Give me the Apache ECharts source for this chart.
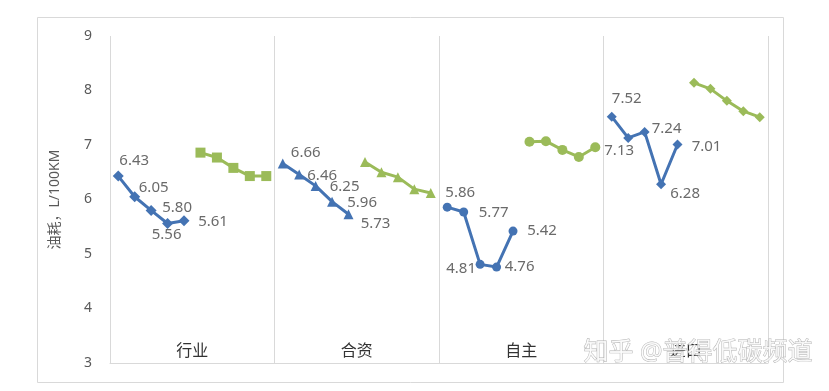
<!DOCTYPE html>
<html>
<head>
<meta charset="utf-8">
<script src="https://cdn.jsdelivr.net/npm/echarts@6/dist/echarts.min.js"></script>
<style>html,body{margin:0;padding:0;background:#fff}#c{width:829px;height:391px}</style>
</head>
<body>
<div id="c"></div>
<script>
// ---- data ----
const groups = ['行业', '合资', '自主', '进口'];
const slotsPerGroup = 10;
const blueValues = [
  [6.43, 6.05, 5.80, 5.56, 5.61],
  [6.66, 6.46, 6.25, 5.96, 5.73],
  [5.86, 5.77, 4.81, 4.76, 5.42],
  [7.52, 7.13, 7.24, 6.28, 7.01]
];
const greenValues = [
  [6.86, 6.77, 6.58, 6.43, 6.43],
  [6.69, 6.50, 6.41, 6.19, 6.12],
  [7.06, 7.07, 6.91, 6.78, 6.96],
  [8.14, 8.03, 7.81, 7.62, 7.51]
];
const yTicks = [3, 4, 5, 6, 7, 8, 9];
const yName = '油耗，L/100KM';

// ---- style ----
const BLUE = '#4473B3', GREEN = '#9BBB59';
const blueSymbols = [['diamond', 11], ['triangle', 10], ['circle', 9], ['diamond', 10]];
const greenSymbols = [['rect', 10], ['triangle', 10], ['circle', 10], ['diamond', 10]];
const labelOffsets = [
  [[16, -15], [19, -9], [26, -3], [-1, 11], [29, 1]],
  [[23, -11], [23, 1], [29, 1], [30, 1], [27, 10]],
  [[13, -14], [30, 1], [-19, 4], [23, 0], [29, 0]],
  [[15, -18], [-9, 13], [22, -3], [24, 9], [29, 2]]
];
const FONT = '"Noto Sans", "Noto Sans CJK SC", sans-serif';

const slotCats = [];
for (let i = 0; i < groups.length * slotsPerGroup; i++) slotCats.push(String(i));

const series = [];
groups.forEach((g, gi) => {
  series.push({
    type: 'line', xAxisIndex: 1, yAxisIndex: 0,
    showAllSymbol: true,
    symbol: blueSymbols[gi][0], symbolSize: blueSymbols[gi][1],
    lineStyle: { color: BLUE, width: 3 },
    itemStyle: { color: BLUE },
    z: 3,
    data: blueValues[gi].map((v, i) => ({
      value: [gi * slotsPerGroup + i, v],
      label: {
        show: true, position: 'inside', offset: labelOffsets[gi][i],
        formatter: p => p.value[1].toFixed(2),
        color: '#6a6a6a', fontSize: 15, fontFamily: FONT
      }
    }))
  });
  series.push({
    type: 'line', xAxisIndex: 1, yAxisIndex: 0,
    showAllSymbol: true,
    symbol: greenSymbols[gi][0], symbolSize: greenSymbols[gi][1],
    lineStyle: { color: GREEN, width: 3 },
    itemStyle: { color: GREEN },
    z: 3,
    data: greenValues[gi].map((v, i) => [gi * slotsPerGroup + slotsPerGroup / 2 + i, v])
  });
});

const chart = echarts.init(document.getElementById('c'), null, { renderer: 'canvas' });
chart.setOption({
  animation: false,
  backgroundColor: '#fff',
  grid: { left: 110, right: 61, top: 36, bottom: 28, containLabel: false },
  xAxis: [
    {
      type: 'category', data: groups, boundaryGap: true,
      axisLine: { show: true, lineStyle: { color: '#d9d9d9', width: 1 } },
      axisTick: { show: false },
      splitLine: { show: true, lineStyle: { color: '#d9d9d9', width: 1 } },
      axisLabel: { inside: true, margin: 4, color: '#333333', fontSize: 16, fontFamily: FONT }
    },
    {
      type: 'category', data: slotCats, boundaryGap: true, show: false,
      gridIndex: 0
    }
  ],
  yAxis: [{
    type: 'value', min: yTicks[0], max: yTicks[yTicks.length - 1], interval: 1,
    axisLine: { show: false }, axisTick: { show: false }, splitLine: { show: false },
    axisLabel: { color: '#595959', fontSize: 14, margin: 18, fontFamily: FONT },
    name: yName, nameLocation: 'middle', nameRotate: 90, nameGap: 48,
    nameTextStyle: { color: '#595959', fontSize: 14, fontFamily: FONT }
  }],
  graphic: [
    { type: 'rect', shape: { x: 37.5, y: 17.5, width: 746, height: 365 },
      style: { fill: 'none', stroke: '#d9d9d9', lineWidth: 1 }, z: -1, silent: true },
    { type: 'text', left: 583, top: 340,
      style: { text: '知乎 @普得低碳频道', fontSize: 25, fontFamily: FONT,
        fill: 'rgba(252,252,252,0.8)', stroke: '#b0b0b0', lineWidth: 0.8 }, z: 100 }
  ],
  series: series
});
</script>
</body>
</html>
